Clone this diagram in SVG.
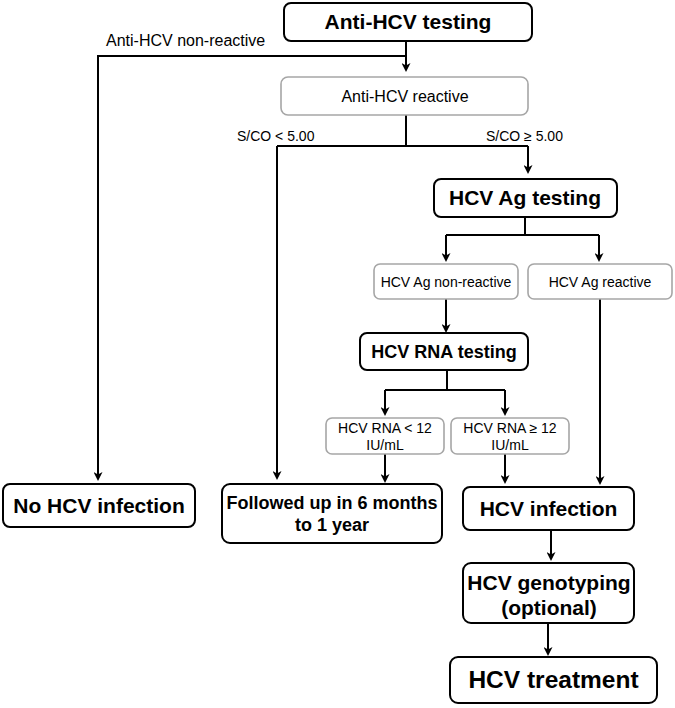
<svg xmlns="http://www.w3.org/2000/svg" width="675" height="708" viewBox="0 0 675 708">
<defs>
<style>
.b{fill:#fff;stroke:#000;stroke-width:2}
.g{fill:#fff;stroke:#a6a6a6;stroke-width:1.6}
.t{font-family:"Liberation Sans",Arial,Helvetica,sans-serif;fill:#000;text-anchor:middle}
.bold{font-weight:bold}
.e{fill:none;stroke:#000;stroke-width:2}
.lbl{font-family:"Liberation Sans",Arial,Helvetica,sans-serif;fill:#000}
</style>
<marker id="ah" viewBox="0 0 9 9" refX="6" refY="4.5" markerWidth="9" markerHeight="9" markerUnits="userSpaceOnUse" orient="auto">
<path d="M0,0 L9,4.5 L0,9 L2.5,4.5 z" fill="#000"/>
</marker>
</defs>
<rect width="675" height="708" fill="#fff"/>
<g id="connectors">
<path class="e" d="M406,41 V69" marker-end="url(#ah)"/>
<path class="e" d="M406,56 H98 V478" marker-end="url(#ah)"/>
<path class="e" d="M406,115 V146 M277,146 H528"/>
<path class="e" d="M277,146 V477" marker-end="url(#ah)"/>
<path class="e" d="M528,146 V171" marker-end="url(#ah)"/>
<path class="e" d="M525,217 V235 M446,235 H599"/>
<path class="e" d="M446,235 V259" marker-end="url(#ah)"/>
<path class="e" d="M599,235 V259" marker-end="url(#ah)"/>
<path class="e" d="M446,299 V330" marker-end="url(#ah)"/>
<path class="e" d="M600,299 V482" marker-end="url(#ah)"/>
<path class="e" d="M447,370 V390 M385,390 H505"/>
<path class="e" d="M385,390 V413" marker-end="url(#ah)"/>
<path class="e" d="M505,390 V413" marker-end="url(#ah)"/>
<path class="e" d="M385,454 V480" marker-end="url(#ah)"/>
<path class="e" d="M505,454 V481" marker-end="url(#ah)"/>
<path class="e" d="M551,530 V558" stroke-width="1.6" marker-end="url(#ah)"/>
<path class="e" d="M548,623 V653" stroke-width="1.6" marker-end="url(#ah)"/>
<text class="lbl" x="106" y="46" font-size="16">Anti-HCV non-reactive</text>
<text class="lbl" x="237" y="141" font-size="14">S/CO &lt; 5.00</text>
<text class="lbl" x="486" y="141" font-size="14">S/CO ≥ 5.00</text>
</g>
<g id="anti-hcv-testing">
<rect class="b" x="284" y="3" width="248" height="38" rx="7"/>
<text class="t bold" x="408" y="29" font-size="21">Anti-HCV testing</text>
</g>
<g id="anti-hcv-reactive">
<rect class="g" x="281" y="77" width="247" height="38" rx="7"/>
<text class="t" x="405" y="102" font-size="16">Anti-HCV reactive</text>
</g>
<g id="hcv-ag-testing">
<rect class="b" x="434" y="179" width="183" height="38" rx="7"/>
<text class="t bold" x="525" y="205" font-size="21">HCV Ag testing</text>
</g>
<g id="hcv-ag-nonreactive">
<rect class="g" x="374" y="264" width="144" height="35" rx="6"/>
<text class="t" x="446" y="287" font-size="14">HCV Ag non-reactive</text>
</g>
<g id="hcv-ag-reactive">
<rect class="g" x="528" y="264" width="144" height="35" rx="6"/>
<text class="t" x="600" y="287" font-size="14">HCV Ag reactive</text>
</g>
<g id="hcv-rna-testing">
<rect class="b" x="360" y="333" width="168" height="37" rx="7"/>
<text class="t bold" x="444" y="358" font-size="18">HCV RNA testing</text>
</g>
<g id="hcv-rna-low">
<rect class="g" x="326" y="418" width="118" height="36" rx="6"/>
<text class="t" x="385" y="433" font-size="14">HCV RNA &lt; 12</text>
<text class="t" x="385" y="450" font-size="14">IU/mL</text>
</g>
<g id="hcv-rna-high">
<rect class="g" x="451" y="418" width="118" height="36" rx="6"/>
<text class="t" x="510" y="433" font-size="14">HCV RNA ≥ 12</text>
<text class="t" x="510" y="450" font-size="14">IU/mL</text>
</g>
<g id="no-hcv-infection">
<rect class="b" x="3" y="484" width="192" height="43" rx="7"/>
<text class="t bold" x="99" y="513" font-size="21">No HCV infection</text>
</g>
<g id="followed-up">
<rect class="b" x="222" y="484" width="220" height="59" rx="8"/>
<text class="t bold" x="332" y="509" font-size="18">Followed up in 6 months</text>
<text class="t bold" x="332" y="531" font-size="18">to 1 year</text>
</g>
<g id="hcv-infection">
<rect class="b" x="463" y="487" width="171" height="43" rx="7"/>
<text class="t bold" x="548.5" y="516" font-size="21">HCV infection</text>
</g>
<g id="hcv-genotyping">
<rect class="b" x="463" y="563" width="171" height="60" rx="8"/>
<text class="t bold" x="549" y="590" font-size="21">HCV genotyping</text>
<text class="t bold" x="549" y="615" font-size="21">(optional)</text>
</g>
<g id="hcv-treatment">
<rect class="b" x="450" y="657" width="207" height="46" rx="8"/>
<text class="t bold" x="553.5" y="688" font-size="24.5">HCV treatment</text>
</g>
</svg>
